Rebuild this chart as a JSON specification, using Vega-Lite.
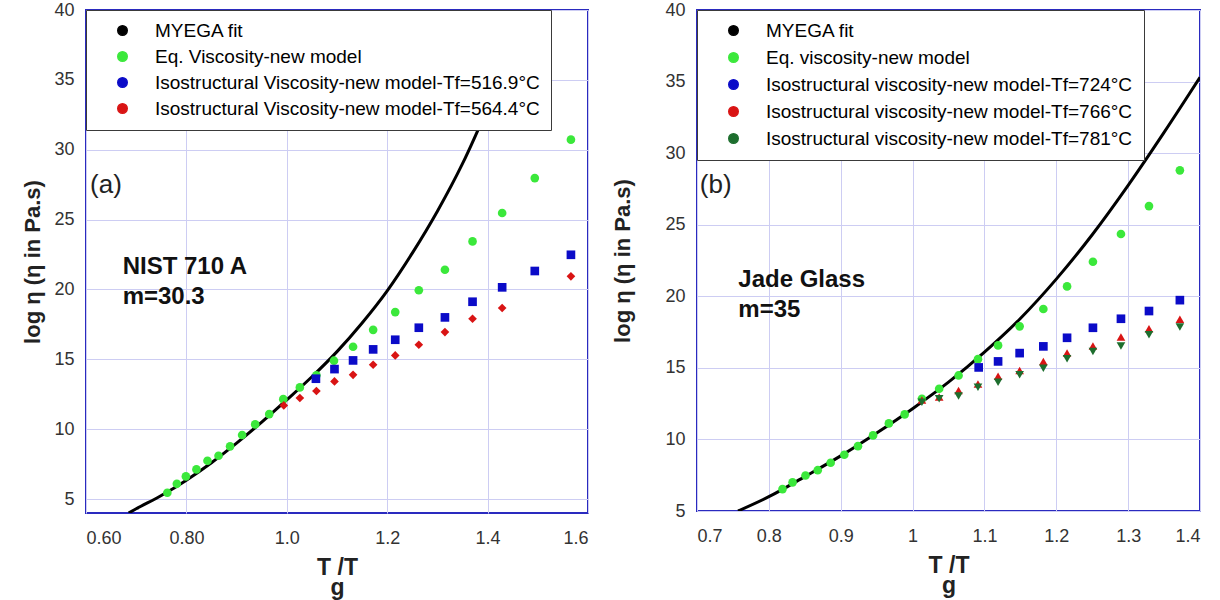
{
  "$schema": "https://vega.github.io/schema/vega-lite/v6.json",
  "background": "white",
  "padding": {"left": 20, "top": 0, "right": 5, "bottom": 0},
  "spacing": 21,
  "config": {
    "view": {"stroke": "#2a2abf", "strokeWidth": 2},
    "font": "Liberation Sans",
    "axis": {
      "grid": true, "gridColor": "#cdcdf3", "gridWidth": 1, "domain": false, "ticks": false,
      "labelFont": "Liberation Sans", "labelFontSize": 18, "labelColor": "#333333",
      "titleFont": "Liberation Sans", "titleFontWeight": "bold", "titleColor": "#222222"
    },
    "axisX": {"labelPadding": 16, "titlePadding": 9, "titleFontSize": 23, "titleLineHeight": 20},
    "axisY": {"labelPadding": 12, "titleFontSize": 22}
  },
  "datasets": {
    "a_fit": [
      {"series": "MYEGA fit", "Tg_T": 0.685, "log_eta": 4.0},
      {"series": "MYEGA fit", "Tg_T": 0.70, "log_eta": 4.3},
      {"series": "MYEGA fit", "Tg_T": 0.75, "log_eta": 5.25},
      {"series": "MYEGA fit", "Tg_T": 0.80, "log_eta": 6.35},
      {"series": "MYEGA fit", "Tg_T": 0.85, "log_eta": 7.6},
      {"series": "MYEGA fit", "Tg_T": 0.90, "log_eta": 9.0},
      {"series": "MYEGA fit", "Tg_T": 0.95, "log_eta": 10.5},
      {"series": "MYEGA fit", "Tg_T": 1.00, "log_eta": 12.1},
      {"series": "MYEGA fit", "Tg_T": 1.05, "log_eta": 13.75},
      {"series": "MYEGA fit", "Tg_T": 1.10, "log_eta": 15.55},
      {"series": "MYEGA fit", "Tg_T": 1.15, "log_eta": 17.6},
      {"series": "MYEGA fit", "Tg_T": 1.20, "log_eta": 19.9},
      {"series": "MYEGA fit", "Tg_T": 1.25, "log_eta": 22.6},
      {"series": "MYEGA fit", "Tg_T": 1.30, "log_eta": 25.6},
      {"series": "MYEGA fit", "Tg_T": 1.35, "log_eta": 29.0},
      {"series": "MYEGA fit", "Tg_T": 1.40, "log_eta": 33.0},
      {"series": "MYEGA fit", "Tg_T": 1.45, "log_eta": 37.4},
      {"series": "MYEGA fit", "Tg_T": 1.48, "log_eta": 40.3}
    ],
    "a_pts": [
      {"series": "Eq. Viscosity-new model", "Tg_T": 0.762, "log_eta": 5.45},
      {"series": "Eq. Viscosity-new model", "Tg_T": 0.781, "log_eta": 6.09},
      {"series": "Eq. Viscosity-new model", "Tg_T": 0.799, "log_eta": 6.62},
      {"series": "Eq. Viscosity-new model", "Tg_T": 0.820, "log_eta": 7.12},
      {"series": "Eq. Viscosity-new model", "Tg_T": 0.842, "log_eta": 7.74},
      {"series": "Eq. Viscosity-new model", "Tg_T": 0.864, "log_eta": 8.10},
      {"series": "Eq. Viscosity-new model", "Tg_T": 0.887, "log_eta": 8.77},
      {"series": "Eq. Viscosity-new model", "Tg_T": 0.911, "log_eta": 9.58},
      {"series": "Eq. Viscosity-new model", "Tg_T": 0.937, "log_eta": 10.34},
      {"series": "Eq. Viscosity-new model", "Tg_T": 0.965, "log_eta": 11.08},
      {"series": "Eq. Viscosity-new model", "Tg_T": 0.993, "log_eta": 12.15},
      {"series": "Eq. Viscosity-new model", "Tg_T": 1.026, "log_eta": 12.99},
      {"series": "Eq. Viscosity-new model", "Tg_T": 1.059, "log_eta": 13.85},
      {"series": "Eq. Viscosity-new model", "Tg_T": 1.094, "log_eta": 14.90},
      {"series": "Eq. Viscosity-new model", "Tg_T": 1.132, "log_eta": 15.90},
      {"series": "Eq. Viscosity-new model", "Tg_T": 1.172, "log_eta": 17.11},
      {"series": "Eq. Viscosity-new model", "Tg_T": 1.216, "log_eta": 18.38},
      {"series": "Eq. Viscosity-new model", "Tg_T": 1.263, "log_eta": 19.94},
      {"series": "Eq. Viscosity-new model", "Tg_T": 1.315, "log_eta": 21.41},
      {"series": "Eq. Viscosity-new model", "Tg_T": 1.370, "log_eta": 23.44},
      {"series": "Eq. Viscosity-new model", "Tg_T": 1.429, "log_eta": 25.47},
      {"series": "Eq. Viscosity-new model", "Tg_T": 1.494, "log_eta": 27.97},
      {"series": "Eq. Viscosity-new model", "Tg_T": 1.566, "log_eta": 30.72},
      {"series": "Isostructural Viscosity-new model-Tf=516.9°C", "Tg_T": 1.058, "log_eta": 13.61},
      {"series": "Isostructural Viscosity-new model-Tf=516.9°C", "Tg_T": 1.095, "log_eta": 14.30},
      {"series": "Isostructural Viscosity-new model-Tf=516.9°C", "Tg_T": 1.132, "log_eta": 14.92},
      {"series": "Isostructural Viscosity-new model-Tf=516.9°C", "Tg_T": 1.172, "log_eta": 15.71},
      {"series": "Isostructural Viscosity-new model-Tf=516.9°C", "Tg_T": 1.216, "log_eta": 16.40},
      {"series": "Isostructural Viscosity-new model-Tf=516.9°C", "Tg_T": 1.263, "log_eta": 17.26},
      {"series": "Isostructural Viscosity-new model-Tf=516.9°C", "Tg_T": 1.315, "log_eta": 18.00},
      {"series": "Isostructural Viscosity-new model-Tf=516.9°C", "Tg_T": 1.370, "log_eta": 19.12},
      {"series": "Isostructural Viscosity-new model-Tf=516.9°C", "Tg_T": 1.429, "log_eta": 20.15},
      {"series": "Isostructural Viscosity-new model-Tf=516.9°C", "Tg_T": 1.494, "log_eta": 21.32},
      {"series": "Isostructural Viscosity-new model-Tf=516.9°C", "Tg_T": 1.566, "log_eta": 22.48},
      {"series": "Isostructural Viscosity-new model-Tf=564.4°C", "Tg_T": 0.994, "log_eta": 11.70},
      {"series": "Isostructural Viscosity-new model-Tf=564.4°C", "Tg_T": 1.026, "log_eta": 12.23},
      {"series": "Isostructural Viscosity-new model-Tf=564.4°C", "Tg_T": 1.059, "log_eta": 12.73},
      {"series": "Isostructural Viscosity-new model-Tf=564.4°C", "Tg_T": 1.095, "log_eta": 13.42},
      {"series": "Isostructural Viscosity-new model-Tf=564.4°C", "Tg_T": 1.132, "log_eta": 13.89},
      {"series": "Isostructural Viscosity-new model-Tf=564.4°C", "Tg_T": 1.172, "log_eta": 14.61},
      {"series": "Isostructural Viscosity-new model-Tf=564.4°C", "Tg_T": 1.216, "log_eta": 15.28},
      {"series": "Isostructural Viscosity-new model-Tf=564.4°C", "Tg_T": 1.263, "log_eta": 16.04},
      {"series": "Isostructural Viscosity-new model-Tf=564.4°C", "Tg_T": 1.315, "log_eta": 16.95},
      {"series": "Isostructural Viscosity-new model-Tf=564.4°C", "Tg_T": 1.370, "log_eta": 17.90},
      {"series": "Isostructural Viscosity-new model-Tf=564.4°C", "Tg_T": 1.429, "log_eta": 18.67},
      {"series": "Isostructural Viscosity-new model-Tf=564.4°C", "Tg_T": 1.566, "log_eta": 20.94}
    ],
    "b_fit": [
      {"series": "MYEGA fit", "Tg_T": 0.757, "log_eta": 5.0},
      {"series": "MYEGA fit", "Tg_T": 0.80, "log_eta": 6.0},
      {"series": "MYEGA fit", "Tg_T": 0.85, "log_eta": 7.4},
      {"series": "MYEGA fit", "Tg_T": 0.90, "log_eta": 8.85},
      {"series": "MYEGA fit", "Tg_T": 0.95, "log_eta": 10.45},
      {"series": "MYEGA fit", "Tg_T": 1.00, "log_eta": 12.15},
      {"series": "MYEGA fit", "Tg_T": 1.05, "log_eta": 14.0},
      {"series": "MYEGA fit", "Tg_T": 1.10, "log_eta": 16.1},
      {"series": "MYEGA fit", "Tg_T": 1.15, "log_eta": 18.45},
      {"series": "MYEGA fit", "Tg_T": 1.20, "log_eta": 21.2},
      {"series": "MYEGA fit", "Tg_T": 1.25, "log_eta": 24.3},
      {"series": "MYEGA fit", "Tg_T": 1.30, "log_eta": 27.75},
      {"series": "MYEGA fit", "Tg_T": 1.35, "log_eta": 31.45},
      {"series": "MYEGA fit", "Tg_T": 1.40, "log_eta": 35.3}
    ],
    "b_pts": [
      {"series": "Eq. viscosity-new model", "Tg_T": 0.819, "log_eta": 6.53},
      {"series": "Eq. viscosity-new model", "Tg_T": 0.833, "log_eta": 7.00},
      {"series": "Eq. viscosity-new model", "Tg_T": 0.851, "log_eta": 7.48},
      {"series": "Eq. viscosity-new model", "Tg_T": 0.868, "log_eta": 7.85},
      {"series": "Eq. viscosity-new model", "Tg_T": 0.886, "log_eta": 8.37},
      {"series": "Eq. viscosity-new model", "Tg_T": 0.905, "log_eta": 8.93},
      {"series": "Eq. viscosity-new model", "Tg_T": 0.924, "log_eta": 9.53},
      {"series": "Eq. viscosity-new model", "Tg_T": 0.945, "log_eta": 10.28},
      {"series": "Eq. viscosity-new model", "Tg_T": 0.967, "log_eta": 11.12},
      {"series": "Eq. viscosity-new model", "Tg_T": 0.989, "log_eta": 11.75},
      {"series": "Eq. viscosity-new model", "Tg_T": 1.013, "log_eta": 12.84},
      {"series": "Eq. viscosity-new model", "Tg_T": 1.037, "log_eta": 13.54},
      {"series": "Eq. viscosity-new model", "Tg_T": 1.064, "log_eta": 14.47},
      {"series": "Eq. viscosity-new model", "Tg_T": 1.091, "log_eta": 15.61},
      {"series": "Eq. viscosity-new model", "Tg_T": 1.119, "log_eta": 16.57},
      {"series": "Eq. viscosity-new model", "Tg_T": 1.149, "log_eta": 17.90},
      {"series": "Eq. viscosity-new model", "Tg_T": 1.182, "log_eta": 19.11},
      {"series": "Eq. viscosity-new model", "Tg_T": 1.215, "log_eta": 20.69},
      {"series": "Eq. viscosity-new model", "Tg_T": 1.251, "log_eta": 22.41},
      {"series": "Eq. viscosity-new model", "Tg_T": 1.290, "log_eta": 24.35},
      {"series": "Eq. viscosity-new model", "Tg_T": 1.329, "log_eta": 26.30},
      {"series": "Eq. viscosity-new model", "Tg_T": 1.372, "log_eta": 28.80},
      {"series": "Isostructural viscosity-new model-Tf=724°C", "Tg_T": 1.092, "log_eta": 15.03},
      {"series": "Isostructural viscosity-new model-Tf=724°C", "Tg_T": 1.119, "log_eta": 15.45},
      {"series": "Isostructural viscosity-new model-Tf=724°C", "Tg_T": 1.149, "log_eta": 16.03},
      {"series": "Isostructural viscosity-new model-Tf=724°C", "Tg_T": 1.182, "log_eta": 16.50},
      {"series": "Isostructural viscosity-new model-Tf=724°C", "Tg_T": 1.215, "log_eta": 17.10},
      {"series": "Isostructural viscosity-new model-Tf=724°C", "Tg_T": 1.251, "log_eta": 17.80},
      {"series": "Isostructural viscosity-new model-Tf=724°C", "Tg_T": 1.290, "log_eta": 18.43},
      {"series": "Isostructural viscosity-new model-Tf=724°C", "Tg_T": 1.329, "log_eta": 18.97},
      {"series": "Isostructural viscosity-new model-Tf=724°C", "Tg_T": 1.372, "log_eta": 19.73},
      {"series": "Isostructural viscosity-new model-Tf=766°C", "Tg_T": 1.013, "log_eta": 12.75},
      {"series": "Isostructural viscosity-new model-Tf=766°C", "Tg_T": 1.037, "log_eta": 12.96},
      {"series": "Isostructural viscosity-new model-Tf=766°C", "Tg_T": 1.064, "log_eta": 13.42},
      {"series": "Isostructural viscosity-new model-Tf=766°C", "Tg_T": 1.091, "log_eta": 13.88},
      {"series": "Isostructural viscosity-new model-Tf=766°C", "Tg_T": 1.119, "log_eta": 14.42},
      {"series": "Isostructural viscosity-new model-Tf=766°C", "Tg_T": 1.149, "log_eta": 14.82},
      {"series": "Isostructural viscosity-new model-Tf=766°C", "Tg_T": 1.182, "log_eta": 15.45},
      {"series": "Isostructural viscosity-new model-Tf=766°C", "Tg_T": 1.215, "log_eta": 16.03},
      {"series": "Isostructural viscosity-new model-Tf=766°C", "Tg_T": 1.251, "log_eta": 16.52},
      {"series": "Isostructural viscosity-new model-Tf=766°C", "Tg_T": 1.290, "log_eta": 17.15},
      {"series": "Isostructural viscosity-new model-Tf=766°C", "Tg_T": 1.329, "log_eta": 17.73},
      {"series": "Isostructural viscosity-new model-Tf=766°C", "Tg_T": 1.372, "log_eta": 18.39},
      {"series": "Isostructural viscosity-new model-Tf=781°C", "Tg_T": 1.013, "log_eta": 12.60},
      {"series": "Isostructural viscosity-new model-Tf=781°C", "Tg_T": 1.037, "log_eta": 12.84},
      {"series": "Isostructural viscosity-new model-Tf=781°C", "Tg_T": 1.064, "log_eta": 13.03},
      {"series": "Isostructural viscosity-new model-Tf=781°C", "Tg_T": 1.091, "log_eta": 13.65},
      {"series": "Isostructural viscosity-new model-Tf=781°C", "Tg_T": 1.119, "log_eta": 14.00},
      {"series": "Isostructural viscosity-new model-Tf=781°C", "Tg_T": 1.149, "log_eta": 14.51},
      {"series": "Isostructural viscosity-new model-Tf=781°C", "Tg_T": 1.182, "log_eta": 14.98},
      {"series": "Isostructural viscosity-new model-Tf=781°C", "Tg_T": 1.215, "log_eta": 15.63},
      {"series": "Isostructural viscosity-new model-Tf=781°C", "Tg_T": 1.251, "log_eta": 16.15},
      {"series": "Isostructural viscosity-new model-Tf=781°C", "Tg_T": 1.290, "log_eta": 16.52},
      {"series": "Isostructural viscosity-new model-Tf=781°C", "Tg_T": 1.329, "log_eta": 17.31},
      {"series": "Isostructural viscosity-new model-Tf=781°C", "Tg_T": 1.372, "log_eta": 17.85}
    ]
  },
  "resolve": {
    "scale": {"x": "independent", "y": "independent", "color": "independent", "shape": "independent"},
    "legend": {"color": "independent"}
  },
  "hconcat": [
    {
      "width": 502,
      "height": 503,
      "layer": [
        {"data": {"name": "a_fit"}, "mark": {"type": "line", "strokeWidth": 3, "interpolate": "monotone", "clip": true},
         "encoding": {
          "x": {"field": "Tg_T", "type": "quantitative",
            "scale": {"domain": [0.6, 1.6], "nice": false, "zero": false},
            "axis": {"values": [0.6, 0.8, 1, 1.2, 1.4, 1.6], "labelExpr": "datum.value < 0.99 ? format(datum.value, '.2f') : format(datum.value, '.1f')", "title": ["T /T", "g"]}},
          "y": {"field": "log_eta", "type": "quantitative",
            "scale": {"domain": [4, 40], "nice": false, "zero": false},
            "axis": {"values": [5, 10, 15, 20, 25, 30, 35, 40], "title": "log η (η in Pa.s)", "titlePadding": 9}},
          "color": {"field": "series", "type": "nominal",
            "scale": {"domain": ["MYEGA fit", "Eq. Viscosity-new model", "Isostructural Viscosity-new model-Tf=516.9°C", "Isostructural Viscosity-new model-Tf=564.4°C"],
                      "range": ["#000000", "#3be83b", "#0b0bc8", "#d91414"]},
            "legend": {
              "title": null, "orient": "top-left", "offset": 0, "padding": 11, "rowPadding": 6,
              "fillColor": "white", "strokeColor": "#3a3a3a",
              "labelFont": "Liberation Sans", "labelFontSize": 19, "labelLimit": 700,
              "symbolSize": 90, "symbolOffset": 16, "labelOffset": 23, "symbolOpacity": 1
            }}
         }},
        {"data": {"name": "a_pts"}, "mark": {"type": "point", "filled": true, "opacity": 1, "strokeWidth": 0, "size": 75},
         "encoding": {
           "x": {"field": "Tg_T", "type": "quantitative"},
           "y": {"field": "log_eta", "type": "quantitative"},
           "color": {"field": "series", "type": "nominal"},
           "shape": {"field": "series", "type": "nominal", "legend": null,
             "scale": {"domain": ["Eq. Viscosity-new model", "Isostructural Viscosity-new model-Tf=516.9°C", "Isostructural Viscosity-new model-Tf=564.4°C"], "range": ["circle", "square", "diamond"]}}
         }},
        {"data": {"values": [{"note": "(a)"}]}, "mark": {"type": "text", "fontSize": 26, "align": "left", "baseline": "middle", "font": "Liberation Sans", "color": "#222222"},
         "encoding": {"x": {"datum": 0.608, "type": "quantitative"}, "y": {"datum": 27.45, "type": "quantitative"}, "text": {"field": "note"}}},
        {"data": {"values": [{"note": "NIST 710 A"}]}, "mark": {"type": "text", "fontSize": 24, "fontWeight": "bold", "align": "left", "baseline": "middle", "font": "Liberation Sans", "color": "#111111"},
         "encoding": {"x": {"datum": 0.673, "type": "quantitative"}, "y": {"datum": 21.6, "type": "quantitative"}, "text": {"field": "note"}}},
        {"data": {"values": [{"note": "m=30.3"}]}, "mark": {"type": "text", "fontSize": 24, "fontWeight": "bold", "align": "left", "baseline": "middle", "font": "Liberation Sans", "color": "#111111"},
         "encoding": {"x": {"datum": 0.673, "type": "quantitative"}, "y": {"datum": 19.46, "type": "quantitative"}, "text": {"field": "note"}}}
      ]
    },
    {
      "width": 503,
      "height": 501,
      "layer": [
        {"data": {"name": "b_fit"}, "mark": {"type": "line", "strokeWidth": 3, "interpolate": "monotone", "clip": true},
         "encoding": {
          "x": {"field": "Tg_T", "type": "quantitative",
            "scale": {"domain": [0.7, 1.4], "nice": false, "zero": false},
            "axis": {"values": [0.7, 0.8, 0.9, 1, 1.1, 1.2, 1.3, 1.4], "labelExpr": "format(datum.value, '~g')", "title": ["T /T", "g"]}},
          "y": {"field": "log_eta", "type": "quantitative",
            "scale": {"domain": [5, 40], "nice": false, "zero": false},
            "axis": {"values": [5, 10, 15, 20, 25, 30, 35, 40], "title": "log η (η in Pa.s)", "titlePadding": 30}},
          "color": {"field": "series", "type": "nominal",
            "scale": {"domain": ["MYEGA fit", "Eq. viscosity-new model", "Isostructural viscosity-new model-Tf=724°C", "Isostructural viscosity-new model-Tf=766°C", "Isostructural viscosity-new model-Tf=781°C"],
                      "range": ["#000000", "#3be83b", "#0b0bc8", "#d91414", "#1d6e2e"]},
            "legend": {
              "title": null, "orient": "top-left", "offset": 0, "padding": 11, "rowPadding": 7,
              "fillColor": "white", "strokeColor": "#3a3a3a",
              "labelFont": "Liberation Sans", "labelFontSize": 19, "labelLimit": 700,
              "symbolSize": 90, "symbolOffset": 16, "labelOffset": 23, "symbolOpacity": 1
            }}
         }},
        {"data": {"name": "b_pts"}, "mark": {"type": "point", "filled": true, "opacity": 1, "strokeWidth": 0, "size": 75},
         "encoding": {
           "x": {"field": "Tg_T", "type": "quantitative"},
           "y": {"field": "log_eta", "type": "quantitative"},
           "color": {"field": "series", "type": "nominal"},
           "shape": {"field": "series", "type": "nominal", "legend": null,
             "scale": {"domain": ["Eq. viscosity-new model", "Isostructural viscosity-new model-Tf=724°C", "Isostructural viscosity-new model-Tf=766°C", "Isostructural viscosity-new model-Tf=781°C"], "range": ["circle", "square", "triangle-up", "triangle-down"]}}
         }},
        {"data": {"values": [{"note": "(b)"}]}, "mark": {"type": "text", "fontSize": 26, "align": "left", "baseline": "middle", "font": "Liberation Sans", "color": "#222222"},
         "encoding": {"x": {"datum": 0.704, "type": "quantitative"}, "y": {"datum": 27.75, "type": "quantitative"}, "text": {"field": "note"}}},
        {"data": {"values": [{"note": "Jade Glass"}]}, "mark": {"type": "text", "fontSize": 24, "fontWeight": "bold", "align": "left", "baseline": "middle", "font": "Liberation Sans", "color": "#111111"},
         "encoding": {"x": {"datum": 0.7575, "type": "quantitative"}, "y": {"datum": 21.11, "type": "quantitative"}, "text": {"field": "note"}}},
        {"data": {"values": [{"note": "m=35"}]}, "mark": {"type": "text", "fontSize": 24, "fontWeight": "bold", "align": "left", "baseline": "middle", "font": "Liberation Sans", "color": "#111111"},
         "encoding": {"x": {"datum": 0.7575, "type": "quantitative"}, "y": {"datum": 19.01, "type": "quantitative"}, "text": {"field": "note"}}}
      ]
    }
  ]
}
